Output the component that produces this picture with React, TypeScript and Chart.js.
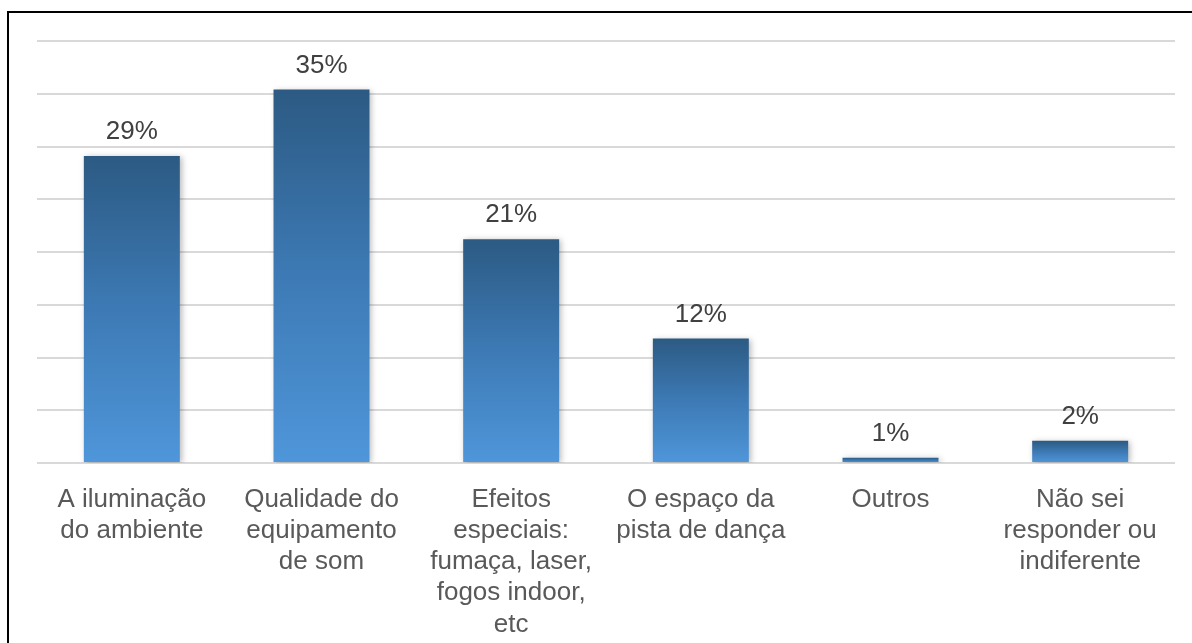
import React, { useEffect, useRef } from "react";
import { Chart, registerables } from "chart.js";

Chart.register(...registerables);

const categories: (string | string[])[] = [
  ["A iluminação", "do ambiente"],
  ["Qualidade do", "equipamento", "de som"],
  ["Efeitos", "especiais:", "fumaça, laser,", "fogos indoor,", "etc"],
  ["O espaço da", "pista de dança"],
  "Outros",
  ["Não sei", "responder ou", "indiferente"],
];
const values: number[] = [29.1, 35.4, 21.2, 11.8, 0.5, 2.1];
const valueLabels: string[] = ["29%", "35%", "21%", "12%", "1%", "2%"];
const yMax = 40;
const yStep = 5;

const FONT = "'Liberation Sans', Arial, sans-serif";

const valueLabelPlugin = {
  id: "valueLabels",
  beforeDatasetsDraw(chart: any) {
    const ctx = chart.ctx;
    ctx.save();
    ctx.shadowColor = "rgba(0,0,0,0.28)";
    ctx.shadowBlur = 6;
    ctx.shadowOffsetX = 2;
    ctx.shadowOffsetY = 1;
  },
  afterDatasetsDraw(chart: any) {
    const ctx = chart.ctx;
    ctx.restore();
    const meta = chart.getDatasetMeta(0);
    ctx.save();
    ctx.font = `26px ${FONT}`;
    ctx.fillStyle = "#404040";
    ctx.textAlign = "center";
    ctx.textBaseline = "alphabetic";
    meta.data.forEach((bar: any, i: number) => {
      ctx.fillText(valueLabels[i], bar.x, bar.y - 17);
    });
    ctx.restore();
  },
};

export default function App() {
  const ref = useRef<HTMLCanvasElement>(null);
  useEffect(() => {
    if (!ref.current) return;
    const chart = new Chart(ref.current, {
      type: "bar",
      data: {
        labels: categories,
        datasets: [
          {
            data: values,
            backgroundColor: (c: any) => {
              const ch = c.chart;
              const area = ch.chartArea;
              if (!area || c.dataIndex === undefined) return "#3E7CB8";
              const ys = ch.scales.y;
              const top = ys.getPixelForValue(values[c.dataIndex]);
              const bottom = ys.getPixelForValue(0);
              const g = ch.ctx.createLinearGradient(0, top, 0, Math.max(bottom, top + 1));
              g.addColorStop(0, "#2C5A83");
              g.addColorStop(0.5, "#3D7AB5");
              g.addColorStop(1, "#4F96DA");
              return g;
            },
            borderWidth: 0,
            categoryPercentage: 1,
            barPercentage: 0.506,
          },
        ],
      },
      options: {
        animation: false,
        responsive: false,
        maintainAspectRatio: false,
        layout: { padding: { left: 37, right: 17, top: 41, bottom: 0 } },
        plugins: { legend: { display: false }, tooltip: { enabled: false } },
        scales: {
          x: {
            grid: { display: false },
            border: { display: false },
            ticks: {
              color: "#595959",
              font: { family: FONT, size: 26, lineHeight: 1.2 },
              padding: 13,
              maxRotation: 0,
              minRotation: 0,
              autoSkip: false,
            },
            afterFit: (s: any) => {
              s.height = 643 - 463;
            },
          },
          y: {
            min: 0,
            max: yMax,
            ticks: { display: false, stepSize: yStep },
            grid: { color: "#d9d9d9", lineWidth: 2, drawTicks: false },
            border: { display: false },
            afterFit: (s: any) => {
              s.width = 0;
            },
          },
        },
      },
      plugins: [valueLabelPlugin],
    });
    return () => chart.destroy();
  }, []);
  return (
    <div>
      <canvas
        ref={ref}
        width={1192}
        height={643}
        style={{ position: "fixed", left: 0, top: 0, width: 1192, height: 643 }}
      />
      <div
        style={{
          position: "fixed",
          left: 7,
          top: 11,
          width: 1300,
          height: 800,
          borderLeft: "2px solid #000",
          borderTop: "2px solid #000",
          pointerEvents: "none",
        }}
      />
    </div>
  );
}
